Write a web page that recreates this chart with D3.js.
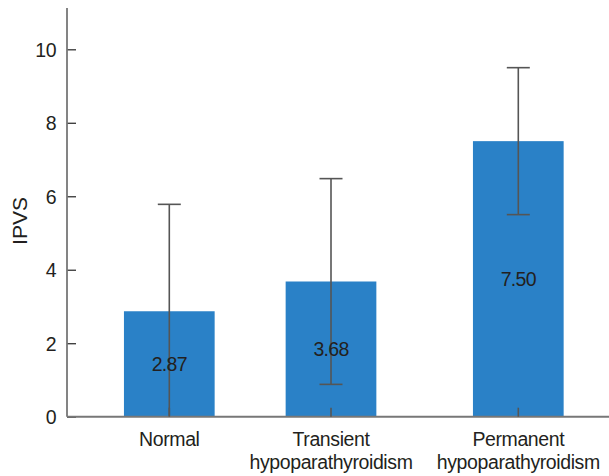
<!DOCTYPE html>
<html>
<head>
<meta charset="utf-8">
<script src="https://cdn.jsdelivr.net/npm/d3@7"></script>
<style>
  body { margin: 0; background: #fff; }
  svg text { font-family: "Liberation Sans", Arial, Helvetica, sans-serif; fill: #231f20; }
</style>
</head>
<body>
<svg id="chart" width="609" height="476"></svg>
<script>
const categories = [["Normal"], ["Transient", "hypoparathyroidism"], ["Permanent", "hypoparathyroidism"]];
const means = [2.87, 3.68, 7.50];
const sds = [2.91, 2.80, 2.00];
const valueLabels = ["2.87", "3.68", "7.50"];
const yTicks = [0, 2, 4, 6, 8, 10];

const svg = d3.select("#chart");
const W = 609, H = 476;
const x0 = 67, y0 = 416.7;

const y = d3.scaleLinear().domain([0, 10]).range([y0, 49.3]);
const keys = categories.map(c => c.join(" "));
// category centres
const x = d3.scaleOrdinal().domain(keys).range([169.3, 331, 518.3]);
const barW = 90.7;

// bars
svg.append("g").selectAll("rect").data(means).join("rect")
  .attr("x", (d, i) => x(keys[i]) - barW / 2)
  .attr("y", d => y(d))
  .attr("width", barW)
  .attr("height", d => y(0) - y(d))
  .attr("fill", "#2a81c7");

// error bars
const eb = svg.append("g").attr("stroke", "#555").attr("stroke-width", 1.6);
means.forEach((m, i) => {
  const cx = x(keys[i]);
  const hi = m + sds[i], lo = Math.max(0, m - sds[i]);
  eb.append("line").attr("x1", cx).attr("x2", cx).attr("y1", y(hi)).attr("y2", y(lo));
  eb.append("line").attr("x1", cx - 11.5).attr("x2", cx + 11.5).attr("y1", y(hi)).attr("y2", y(hi));
  if (m - sds[i] > 0)
    eb.append("line").attr("x1", cx - 11.5).attr("x2", cx + 11.5).attr("y1", y(lo)).attr("y2", y(lo));
});

// value labels
svg.append("g").selectAll("text").data(means).join("text")
  .attr("x", (d, i) => x(keys[i]))
  .attr("y", d => y(d / 2))
  .attr("dy", "0.35em")
  .attr("text-anchor", "middle")
  .attr("font-size", 19.5)
  .attr("letter-spacing", -0.7)
  .text((d, i) => valueLabels[i]);

// y axis
const yAxis = d3.axisRight(y).tickValues(yTicks).tickSize(9).tickFormat(d3.format("d"));
const gy = svg.append("g").attr("transform", `translate(${x0},0)`).call(yAxis);
gy.select(".domain").remove();
gy.selectAll(".tick line").attr("stroke", "#333").attr("stroke-width", 1.3);
gy.selectAll(".tick text").attr("x", -11).attr("text-anchor", "end").attr("font-size", 19.5)
  .attr("letter-spacing", -0.5)
  .attr("font-family", "Liberation Sans, Arial, sans-serif").attr("fill", "#231f20").attr("dy", "0.36em");
svg.append("line").attr("x1", x0).attr("x2", x0).attr("y1", 8).attr("y2", y0)
  .attr("stroke", "#777").attr("stroke-width", 1.8);

// x axis
svg.append("line").attr("x1", x0).attr("x2", W).attr("y1", y0).attr("y2", y0)
  .attr("stroke", "#777").attr("stroke-width", 2);
const gx = svg.append("g");
keys.forEach((k, i) => {
  gx.append("line").attr("x1", x(k)).attr("x2", x(k)).attr("y1", y0).attr("y2", y0 - 9)
    .attr("stroke", "#555").attr("stroke-width", 1.6);
  const t = gx.append("text").attr("text-anchor", "middle").attr("font-size", 19.5).attr("letter-spacing", -0.4);
  categories[i].forEach((line, j) => {
    t.append("tspan").attr("x", x(k)).attr("y", 445.5 + j * 23).text(line);
  });
});

// y label
svg.append("text").attr("transform", "translate(27,221) rotate(-90)")
  .attr("text-anchor", "middle").attr("font-size", 21).text("IPVS");
</script>
</body>
</html>
